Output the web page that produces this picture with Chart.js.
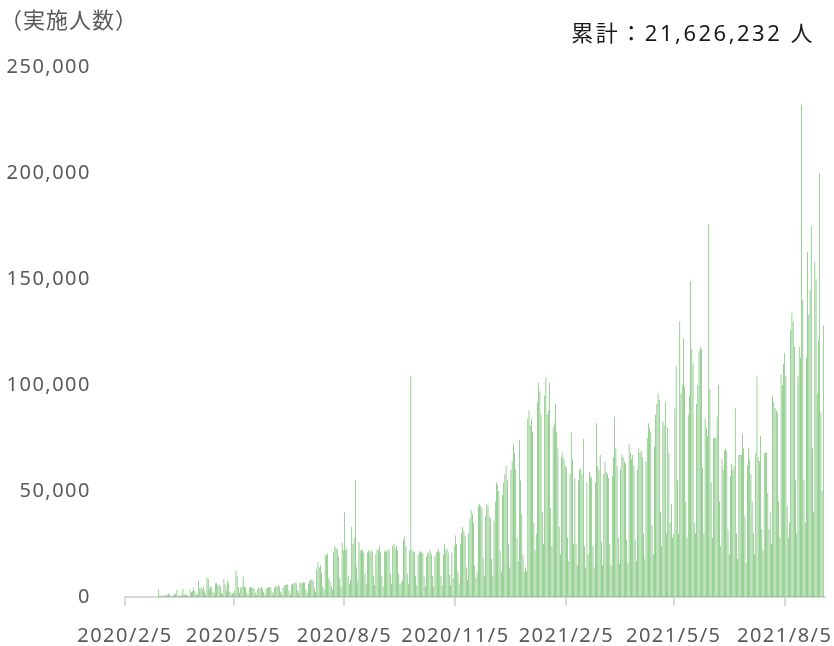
<!DOCTYPE html>
<html><head><meta charset="utf-8">
<script src="https://cdn.jsdelivr.net/npm/chart.js@4"></script>
<style>html,body{margin:0;padding:0;background:#fff;}#wrap{width:834px;height:646px;position:relative;}</style>
</head><body><div id="wrap"><canvas id="c" width="834" height="646"></canvas></div>
<script>
// ---- data ----
const startYear = 2020, startMonth = 2, startDay = 5;
const dayCount = 581;
const tickDates = ['2020/2/5','2020/5/5','2020/8/5','2020/11/5','2021/2/5','2021/5/5','2021/8/5'];
const yTickValues = [0, 50000, 100000, 150000, 200000, 250000];
const titleText = '（実施人数）';
const totalText = '累計：21,626,232 人';
// daily counts, one row per week (Wed..Tue), starting 2020/2/5
const testCounts = [
0,0,0,0,0,0,0,
0,0,0,0,0,0,0,
0,0,0,0,0,0,0,
0,0,0,0,0,0,0,
3800,600,700,300,200,900,1000,
1100,1600,900,500,300,1000,1200,
1300,3300,700,600,400,1100,3700,
1500,1000,1100,700,500,3200,2200,
2800,4500,3000,1500,1000,7500,4000,
4500,3800,5000,2500,1500,9200,8600,
4000,5000,4500,2500,1800,6500,6500,
5500,6000,5000,2000,1500,8600,6000,
3000,7800,6500,2500,1500,1500,1800,
3000,12600,10000,4500,2000,4500,5000,
9500,5000,4500,2000,1200,4500,5000,
4500,4200,4000,2000,1000,3500,4500,
4200,4800,4000,2200,1200,4000,4500,
4500,5000,4500,2500,1300,4200,5200,
4800,5500,5000,2500,1400,4500,5600,
5500,5800,6000,3000,1500,5500,6200,
6500,6800,6400,3200,1800,6500,7000,
6500,7000,6800,3500,2000,6000,7500,
8000,8500,7500,4000,2500,13000,16500,
14000,15000,11500,5000,3500,20000,19500,
20500,9000,7500,5000,3500,21000,24000,
23000,22500,19000,9000,5000,25700,22000,
40000,22000,23000,10000,6000,8000,33000,
25000,28000,55000,14000,7000,26000,22000,
22000,22000,21000,11000,6000,21000,22000,
21000,22000,21500,10000,5500,20000,22500,
22000,24000,21000,10000,5000,21500,22000,
21000,22500,22000,11000,6000,24000,25000,
23000,24000,22000,11000,6000,7000,8000,
27000,28500,24000,11000,6000,22000,104000,
22000,21500,21000,10000,5500,20000,21500,
21000,21500,20500,9500,5000,19000,21000,
21000,22000,20000,10000,5000,19500,21500,
21500,22500,21000,10000,5500,20000,25000,
22000,23000,21000,10500,5500,21000,9000,
24000,29000,25000,12000,6500,25000,30000,
33000,31000,29000,14000,8000,30000,37000,
41000,39000,35000,15000,9000,12000,43000,
44000,43000,42000,18000,10000,38000,44000,
43000,38000,37000,18000,10000,36000,45000,
54000,53000,50000,22000,12000,48000,54000,
58000,62000,55000,25000,14000,60000,64000,
72000,68000,60000,28000,17000,74000,55000,
39000,20000,12000,14000,12000,84000,88000,
81000,84000,78000,35000,22000,30000,92000,
101000,97000,86000,40000,25000,95000,103600,
86000,88000,101000,42000,24000,80000,82000,
91000,78000,70000,33000,20000,66000,68000,
65000,62000,61000,28000,17000,58000,77700,
65000,25000,56000,25000,15000,55000,60000,
61000,58000,74600,24000,14000,54000,20000,
59000,57000,56000,24000,14000,54000,82000,
62000,60000,67000,26000,15000,58000,64000,
59000,58000,56000,25000,15000,57000,66000,
85000,70000,62000,28000,16000,60000,67000,
66000,64000,63000,27000,16000,72000,68000,
65000,67000,62000,27000,17000,60000,70000,
68000,69000,66000,30000,18000,64000,75000,
82000,80000,78000,34000,20000,71000,86000,
91000,96000,93000,40000,24000,83000,81000,
92000,30000,80000,68000,35000,44000,28000,
30000,89000,109000,55000,30000,130000,96000,
100000,122000,99000,45000,28000,86000,95000,
149000,117000,110000,35000,30000,91000,100000,
116000,118000,117000,61000,30000,84000,80000,
76000,176000,98000,54000,28000,75000,75000,
75000,85000,100000,45000,24000,65000,60000,
69000,70000,69000,32000,20000,57000,63000,
60000,62000,89000,30000,18000,67000,67000,
67000,77000,70000,38000,16000,62000,70000,
65000,58000,45000,30000,20000,68000,104000,
66000,64000,76000,32000,22000,68000,68000,
68000,49000,32000,40000,25000,95000,92000,
89000,88000,87000,45000,28000,105000,100000,
110000,115000,104000,43000,28000,35000,126000,
134000,130000,118000,55000,30000,104000,118000,
113000,232000,140000,55000,35000,113000,162700,
133000,145000,175000,70000,40000,158000,150000,
96000,121000,200000,87000,50000,128000,null
];

// ---- categories (one per day) ----
const categories = [];
for (let i = 0; i < dayCount; i++) {
  const d = new Date(startYear, startMonth - 1, startDay + i);
  categories.push(d.getFullYear() + '/' + (d.getMonth() + 1) + '/' + d.getDate());
}

const FONT = '"Noto Sans", "Noto Sans CJK JP", sans-serif';
const SPACING = '1.5px';

const spacingPlugin = {
  id: 'spacing',
  beforeLayout(chart) { chart.ctx.letterSpacing = SPACING; },
  beforeDraw(chart) { chart.ctx.letterSpacing = SPACING; }
};
const headerPlugin = {
  id: 'header',
  afterDraw(chart) {
    const ctx = chart.ctx;
    ctx.save();
    ctx.textBaseline = 'middle';
    ctx.letterSpacing = '1px';
    ctx.font = '22px ' + FONT;
    ctx.textAlign = 'left';
    ctx.fillStyle = '#595959';
    ctx.fillText(titleText, 0, 22);
    ctx.letterSpacing = '2.5px';
    ctx.textAlign = 'right';
    ctx.fillStyle = '#1a1a1a';
    ctx.fillText(totalText, 815, 35);
    ctx.restore();
  }
};

new Chart(document.getElementById('c'), {
  type: 'bar',
  data: {
    labels: categories,
    datasets: [{
      data: testCounts,
      backgroundColor: '#66ba62',
      borderWidth: 0,
      barPercentage: 0.55,
      categoryPercentage: 1.0
    }]
  },
  options: {
    responsive: false,
    devicePixelRatio: 1,
    animation: false,
    layout: { padding: { top: 67, right: 9.5, bottom: 0, left: 0 } },
    plugins: { legend: { display: false }, tooltip: { enabled: false } },
    scales: {
      x: {
        type: 'category',
        offset: false,
        grid: { display: true, offset: false, drawOnChartArea: false, drawTicks: true, tickLength: 9, color: '#d9d9d9', lineWidth: 2 },
        border: { display: true, color: '#d9d9d9', width: 2 },
        ticks: { autoSkip: false, maxRotation: 0, minRotation: 0, padding: 18, color: '#595959', font: { family: FONT, size: 20 } },
        afterBuildTicks(scale) {
          scale.ticks = scale.ticks.filter(t => tickDates.includes(categories[t.value]));
        },
        afterFit(scale) { scale.height = 49; scale.paddingLeft = 0; scale.paddingRight = 0; }
      },
      y: {
        min: 0, max: 250000,
        grid: { display: false, drawTicks: false },
        border: { display: false },
        afterBuildTicks(scale) { scale.ticks = yTickValues.map(v => ({ value: v })); },
        ticks: {
          padding: 34, color: '#595959', font: { family: FONT, size: 20 },
          callback: v => v.toLocaleString('en-US')
        },
        afterFit(scale) { scale.width = 125; scale.paddingTop = 0; scale.paddingBottom = 0; }
      }
    }
  },
  plugins: [spacingPlugin, headerPlugin]
});
</script></body></html>
